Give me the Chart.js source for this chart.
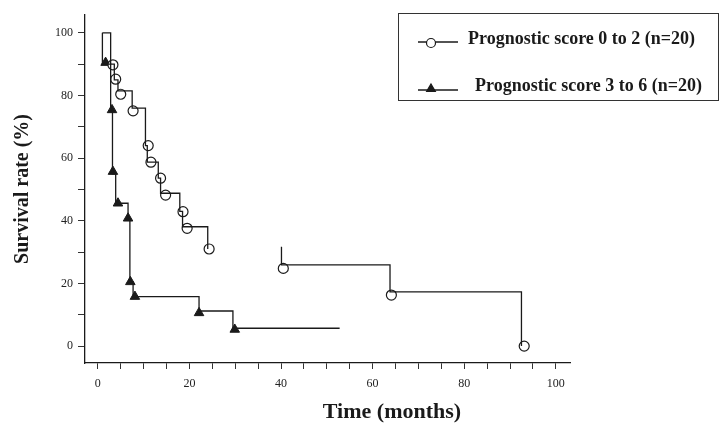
<!DOCTYPE html>
<html>
<head>
<meta charset="utf-8">
<script src="https://cdn.jsdelivr.net/npm/chart.js@4.4.1/dist/chart.umd.min.js"></script>
<style>
  html, body { margin: 0; padding: 0; background: #fff; }
  canvas { display: block; }
</style>
</head>
<body>
<canvas id="survivalChart" width="720" height="435"></canvas>
<script>
// step curves (time in months, survival %); null breaks the line
const group1StepTimes = [1.0, 2.8, 3.6, 4.4, 7.5, 10.4, 10.8, 13.2, 13.7, 17.9, 18.5, 24.0, 32, 40.1, 40.1, 63.8, 92.5];
const group1StepSurv = [100, 90, 85, 81.5, 76, 64, 58.7, 53.6, 48.8, 43, 38.1, 31, null, 31.7, 25.9, 17.3, 0];
const group2StepTimes = [1.0, 1.0, 2.8, 3.2, 3.9, 6.6, 7.0, 7.7, 22.1, 29.5, 52.8];
const group2StepSurv = [100, 90, 75, 55, 45.6, 40.5, 20.5, 15.8, 11.2, 5.7, 5.7];

// marker positions
const group1MarkTimes = [3.3, 3.9, 5.0, 7.7, 11.0, 11.6, 13.7, 14.8, 18.6, 19.5, 24.3, 40.5, 64.1, 93.1];
const group1MarkSurv = [89.8, 85.2, 80.4, 75.1, 64, 58.7, 53.6, 48.2, 42.9, 37.6, 31, 24.8, 16.3, 0];
const group2MarkTimes = [1.7, 3.1, 3.3, 4.4, 6.6, 7.1, 8.1, 22.1, 29.9];
const group2MarkSurv = [90.5, 75.4, 55.7, 45.6, 40.8, 20.5, 15.8, 10.6, 5.3];

const seriesLabels = ["Prognostic score 0 to 2 (n=20)", "Prognostic score 3 to 6 (n=20)"];

const xTicks = [0, 5, 10, 15, 20, 25, 30, 35, 40, 45, 50, 55, 60, 65, 70, 75, 80, 85, 90, 95, 100];
const xTickLabels = [0, 20, 40, 60, 80, 100];
const yTicks = [0, 10, 20, 30, 40, 50, 60, 70, 80, 90, 100];
const yTickLabels = [0, 20, 40, 60, 80, 100];

const xTitle = "Time (months)";
const yTitle = "Survival rate (%)";

const toPoints = (xs, ys) => xs.map((x, i) => ({ x, y: ys[i] }));
const ink = "#1a1a1a";
const serif = "'Liberation Serif', 'Times New Roman', serif";

// boxed legend and x title, drawn where the original puts them
const legendBox = {
  id: "legendBox",
  afterDraw(chart) {
    const ctx = chart.ctx;
    ctx.save();
    ctx.strokeStyle = "#333";
    ctx.lineWidth = 1;
    ctx.strokeRect(398.5, 13.5, 320, 87);

    const rows = [
      { y: 42, textX: 468, textY: 39, style: "circle", fill: "#fff", r: 4.5, dy: 1 },
      { y: 90, textX: 475, textY: 86, style: "triangle", fill: ink, r: 5, dy: -1 }
    ];
    rows.forEach((row, i) => {
      ctx.strokeStyle = ink;
      ctx.lineWidth = 1.3;
      ctx.beginPath();
      ctx.moveTo(418, row.y);
      ctx.lineTo(458, row.y);
      ctx.stroke();
      ctx.fillStyle = row.fill;
      ctx.lineWidth = 1.2;
      Chart.helpers.drawPoint(ctx, {
        pointStyle: row.style,
        radius: row.r,
        rotation: 0,
        borderWidth: 1.2
      }, 431, row.y + row.dy);
      ctx.fillStyle = ink;
      ctx.font = "bold 18px " + serif;
      ctx.textAlign = "left";
      ctx.textBaseline = "middle";
      ctx.fillText(seriesLabels[i], row.textX, row.textY);
    });

    ctx.font = "bold 22px " + serif;
    ctx.textAlign = "center";
    ctx.textBaseline = "middle";
    ctx.fillStyle = ink;
    ctx.fillText(xTitle, 392, 412);
    ctx.restore();
  }
};

new Chart(document.getElementById("survivalChart"), {
  type: "line",
  data: {
    datasets: [
      {
        label: seriesLabels[0],
        data: toPoints(group1StepTimes, group1StepSurv),
        stepped: "before",
        borderColor: ink,
        borderWidth: 1.3,
        pointRadius: 0,
        spanGaps: false
      },
      {
        label: seriesLabels[1],
        data: toPoints(group2StepTimes, group2StepSurv),
        stepped: "before",
        borderColor: ink,
        borderWidth: 1.3,
        pointRadius: 0,
        spanGaps: false
      },
      {
        label: seriesLabels[0] + " markers",
        data: toPoints(group1MarkTimes, group1MarkSurv),
        showLine: false,
        pointStyle: "circle",
        pointRadius: 5,
        pointBackgroundColor: "#fff",
        pointBorderColor: ink,
        pointBorderWidth: 1.2
      },
      {
        label: seriesLabels[1] + " markers",
        data: toPoints(group2MarkTimes, group2MarkSurv),
        showLine: false,
        pointStyle: "triangle",
        pointRadius: 5.5,
        pointBackgroundColor: ink,
        pointBorderColor: ink,
        pointBorderWidth: 1
      }
    ]
  },
  options: {
    responsive: false,
    animation: false,
    layout: { padding: { top: 15, right: 150, left: 0, bottom: 0 } },
    plugins: {
      legend: { display: false },
      tooltip: { enabled: false }
    },
    scales: {
      x: {
        type: "linear",
        min: -2.8,
        max: 103.1,
        afterBuildTicks: (axis) => { axis.ticks = xTicks.map((value) => ({ value })); },
        afterFit: (axis) => { axis.height = 72; },
        grid: { drawOnChartArea: false, drawTicks: true, tickLength: 6, color: "#333", lineWidth: 1 },
        border: { display: true, color: ink, width: 1.3 },
        ticks: {
          autoSkip: false,
          maxRotation: 0,
          padding: 8,
          color: "#222",
          font: { family: serif, size: 12 },
          callback: (value) => (xTickLabels.includes(value) ? String(value) : "")
        }
      },
      y: {
        type: "linear",
        min: -5.4,
        max: 105.7,
        afterBuildTicks: (axis) => { axis.ticks = yTicks.map((value) => ({ value })); },
        afterFit: (axis) => { axis.width = 85; },
        grid: { drawOnChartArea: false, drawTicks: true, tickLength: 7, color: "#333", lineWidth: 1 },
        border: { display: true, color: ink, width: 1.3 },
        ticks: {
          autoSkip: false,
          padding: 5,
          color: "#222",
          font: { family: serif, size: 12 },
          callback: (value) => (yTickLabels.includes(value) ? String(value) : "")
        },
        title: {
          display: true,
          text: yTitle,
          color: ink,
          padding: { top: 11, bottom: 0 },
          font: { family: serif, size: 20, weight: "bold" }
        }
      }
    }
  },
  plugins: [legendBox]
});
</script>
</body>
</html>
